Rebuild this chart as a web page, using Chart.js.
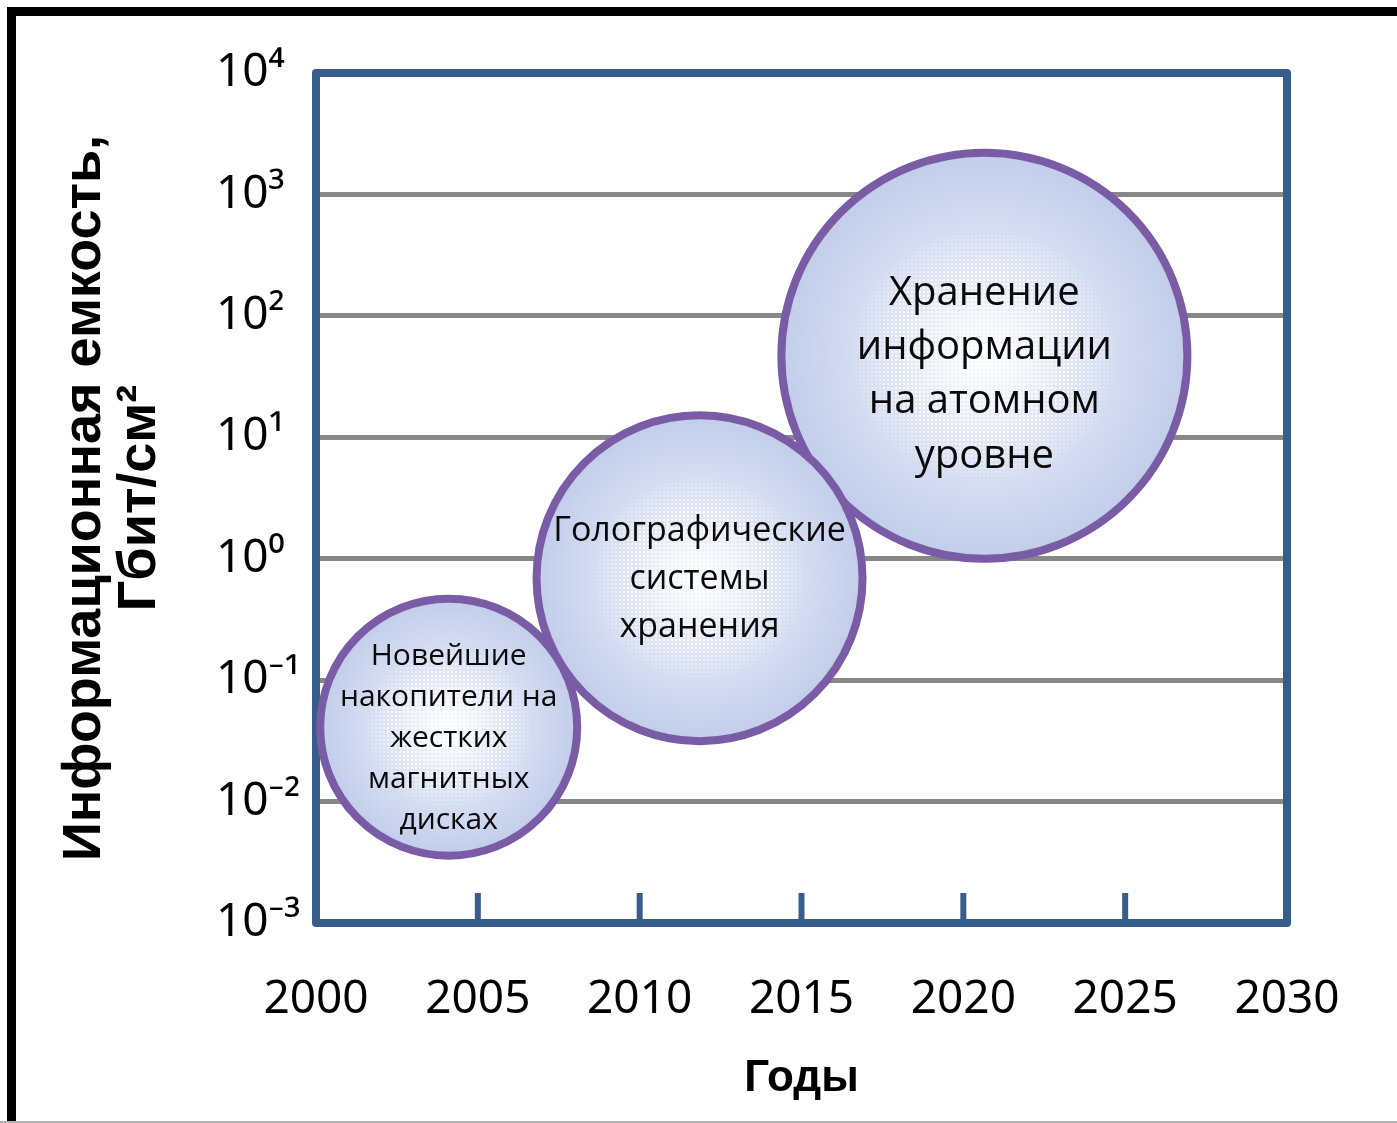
<!DOCTYPE html>
<html>
<head>
<meta charset="utf-8">
<script src="https://cdn.jsdelivr.net/npm/chart.js@4.4.0/dist/chart.umd.min.js"></script>
<style>
html,body{margin:0;padding:0;background:#fff;}
#wrap{width:1397px;height:1123px;position:relative;overflow:hidden;}
canvas{display:block;}
</style>
</head>
<body>
<div id="wrap"><canvas id="c" width="1397" height="1123"></canvas></div>
<script>
// ---- data ----
const technologies = [
  ['Новейшие', 'накопители на', 'жестких', 'магнитных', 'дисках'],
  ['Голографические', 'системы', 'хранения'],
  ['Хранение', 'информации', 'на атомном', 'уровне']
];
const years = [2004.1, 2011.85, 2020.65];          // bubble centres (year)
const capacity = [0.041, 0.69, 47];                // Гбит/см²
const bubbleSize = [128.5, 163, 203];              // bubble radius
const xTickValues = [2000, 2005, 2010, 2015, 2020, 2025, 2030];
const yTickValues = [1e-3, 1e-2, 1e-1, 1e0, 1e1, 1e2, 1e3, 1e4];
const yTickLabels = ['10⁻³', '10⁻²', '10⁻¹', '10⁰', '10¹', '10²', '10³', '10⁴'];
const xTitle = 'Годы';
const yTitle = ['Информационная емкость,', 'Гбит/см²'];

// ---- styles ----
const FRAME_BLUE = '#385D8A';
const BUBBLE_BORDER = '#7A5CA6';
const GRID_GREY = '#878787';
const labelStyles = [
  {size: 30, lh: 41, dy: 11},
  {size: 34, lh: 48, dy: 1},
  {size: 40, lh: 54.3, dy: 19}
];

function bubbleFill(ctx) {
  const chart = ctx.chart;
  if (!chart.chartArea || !ctx.raw) return '#C8D2EC';
  const cx = chart.scales.x.getPixelForValue(ctx.raw.x);
  const cy = chart.scales.y.getPixelForValue(ctx.raw.y);
  const r = ctx.raw.r;
  const g = chart.ctx.createRadialGradient(cx, cy, 0, cx, cy, r);
  g.addColorStop(0, '#F6F8FD');
  g.addColorStop(0.45, '#DFE5F5');
  g.addColorStop(1, '#C2CDEA');
  return g;
}

const backgroundPlugin = {
  id: 'bgFrame',
  beforeDraw(chart) {
    const c = chart.ctx;
    c.save();
    c.fillStyle = '#fff';
    c.fillRect(0, 0, chart.width, chart.height);
    c.fillStyle = '#000';
    c.fillRect(7, 7, 9, chart.height - 7);
    c.fillRect(7, 7, chart.width - 7, 9);
    c.fillStyle = '#b4b4b4';
    c.fillRect(0, chart.height - 2, chart.width, 2);
    c.restore();
  }
};

const plotFramePlugin = {
  id: 'plotFrame',
  beforeDatasetsDraw(chart) {
    const {ctx: c, chartArea: a, scales} = chart;
    c.save();
    c.strokeStyle = FRAME_BLUE;
    c.lineWidth = 8;
    c.lineJoin = 'round';
    c.strokeRect(a.left, a.top, a.right - a.left, a.bottom - a.top);
    c.lineWidth = 6;
    c.lineCap = 'butt';
    xTickValues.forEach(v => {
      if (v === scales.x.min || v === scales.x.max) return;
      const px = scales.x.getPixelForValue(v);
      c.beginPath();
      c.moveTo(px, a.bottom);
      c.lineTo(px, a.bottom - 30);
      c.stroke();
    });
    c.restore();
  }
};

const halftonePlugin = {
  id: 'halftone',
  afterDatasetDraw(chart, args) {
    const meta = args.meta;
    const c = chart.ctx;
    c.save();
    meta.data.forEach(el => {
      const r = el.$context.raw.r;
      const R = r * 0.7;
      const step = 4;
      c.fillStyle = 'rgba(255,255,255,0.85)';
      const x0 = Math.floor((el.x - R) / step) * step;
      const y0 = Math.floor((el.y - R) / step) * step;
      for (let gx = x0; gx <= el.x + R; gx += step) {
        for (let gy = y0; gy <= el.y + R; gy += step) {
          const d = Math.hypot(gx - el.x, (gy - el.y) * 1.05);
          const t = d / R;
          if (t >= 1) continue;
          const s = 3.4 * Math.pow(1 - t, 0.55);
          if (s < 0.9) continue;
          c.fillRect(gx - s / 2, gy - s / 2, s, s);
        }
      }
    });
    c.restore();
  }
};

const bubbleTextPlugin = {
  id: 'bubbleText',
  afterDatasetsDraw(chart) {
    const c = chart.ctx;
    c.save();
    c.fillStyle = '#0a0a0a';
    c.textAlign = 'center';
    c.textBaseline = 'middle';
    chart.data.datasets.forEach((ds, i) => {
      const meta = chart.getDatasetMeta(i);
      const el = meta.data[0];
      const st = labelStyles[i];
      const lines = technologies[i];
      c.font = st.size + 'px "Open Sans"';
      const y0 = el.y + st.dy - (lines.length - 1) * st.lh / 2;
      lines.forEach((t, k) => c.fillText(t, el.x, y0 + k * st.lh));
    });
    c.restore();
  }
};

new Chart(document.getElementById('c'), {
  type: 'bubble',
  data: {
    datasets: technologies.map((lines, i) => ({
      label: lines.join(' '),
      data: [{x: years[i], y: capacity[i], r: bubbleSize[i]}],
      backgroundColor: bubbleFill,
      borderColor: BUBBLE_BORDER,
      borderWidth: 8,
      hoverBorderWidth: 8,
      hoverRadius: 0,
      clip: false
    }))
  },
  options: {
    responsive: false,
    animation: false,
    devicePixelRatio: 1,
    events: [],
    layout: {autoPadding: false, padding: {top: 73, right: 110, bottom: 0, left: 216}},
    plugins: {legend: {display: false}, tooltip: {enabled: false}},
    scales: {
      x: {
        type: 'linear', min: 2000, max: 2030,
        afterBuildTicks: s => { s.ticks = xTickValues.map(v => ({value: v})); },
        afterFit: s => { s.height = 200; },
        grid: {display: false, drawTicks: false},
        border: {display: false},
        ticks: {
          padding: 49, color: '#000', maxRotation: 0, autoSkip: false,
          font: {family: 'Noto Sans', size: 46},
          callback: v => String(v)
        },
        title: {
          display: true, text: xTitle, color: '#000',
          font: {family: 'Liberation Sans', size: 44, weight: 'bold', lineHeight: 1.2},
          padding: {top: 0, bottom: 18}
        }
      },
      y: {
        type: 'logarithmic', min: 1e-3, max: 1e4,
        afterBuildTicks: s => { s.ticks = yTickValues.map(v => ({value: v})); },
        afterFit: s => { s.width = 100; },
        grid: {
          drawTicks: false, lineWidth: 5,
          color: ctx => (ctx.tick && (ctx.tick.value >= 1e4 || ctx.tick.value <= 1e-3)) ? 'rgba(0,0,0,0)' : GRID_GREY
        },
        border: {display: false},
        ticks: {
          crossAlign: 'far', padding: 0, color: '#000', autoSkip: false,
          font: {family: 'Noto Sans', size: 46},
          callback: (v, i) => yTickLabels[i]
        },
        title: {
          display: true, text: yTitle, color: '#000',
          font: {family: 'Liberation Sans', size: 54, weight: 'bold', lineHeight: 55 / 54},
          padding: {top: -158.5, bottom: 0}
        }
      }
    }
  },
  plugins: [backgroundPlugin, plotFramePlugin, halftonePlugin, bubbleTextPlugin]
});
</script>
</body>
</html>
